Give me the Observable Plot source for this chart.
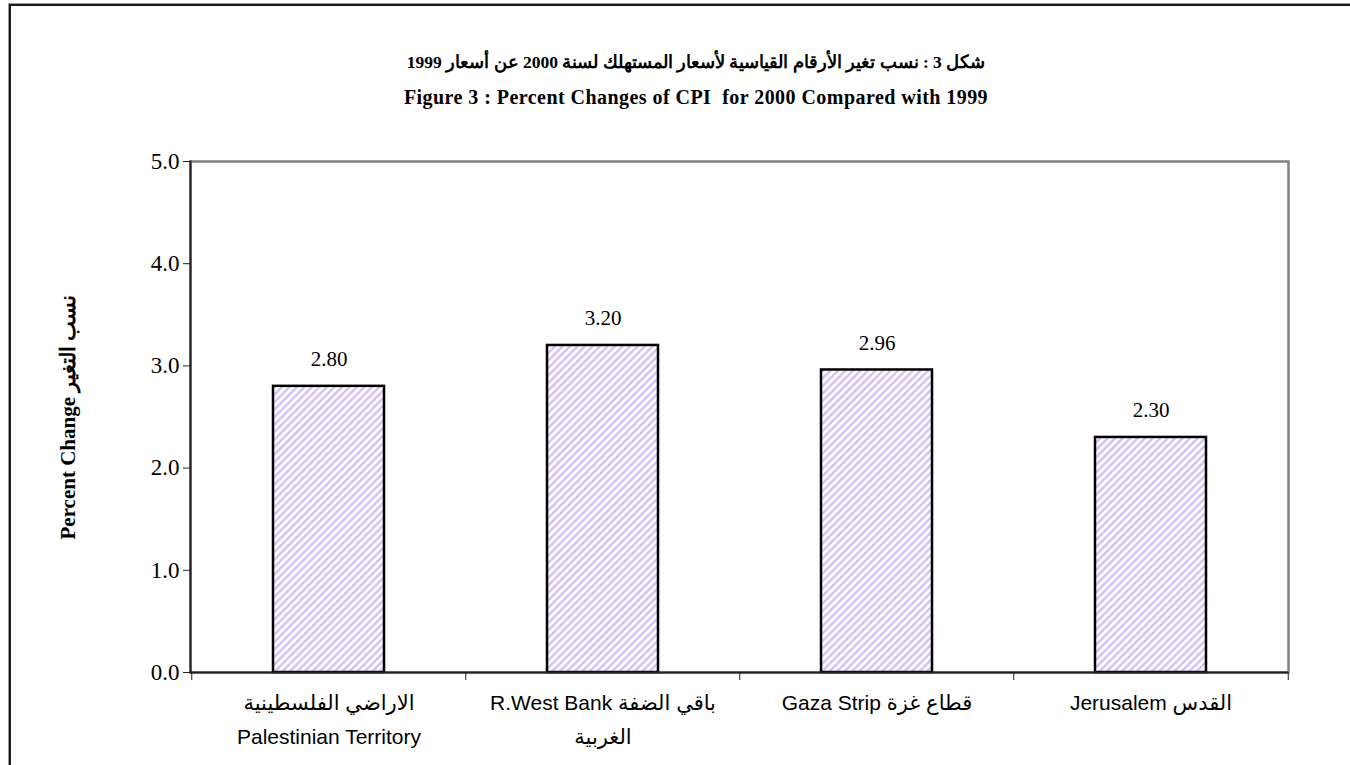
<!DOCTYPE html>
<html>
<head>
<meta charset="utf-8">
<script src="https://cdn.jsdelivr.net/npm/d3@7"></script>
<script src="https://cdn.jsdelivr.net/npm/@observablehq/plot@0.6"></script>
<style>
  html, body { margin: 0; padding: 0; background: #fff; overflow: hidden; width: 1350px; height: 765px; }
  #page { position: relative; width: 1350px; height: 765px; }
  #outer { position: absolute; left: 9px; top: 4px; width: 1400px; height: 800px;
           border-top: 2px solid #1a1a1a; border-left: 2px solid #1a1a1a;
           box-shadow: -1px -1px 0 #999; }
  .title { position: absolute; left: 0; width: 1392px; text-align: center;
           font-family: "Liberation Serif", "DejaVu Serif", serif; font-weight: bold; color: #000; }
  #t1 { top: 52px; font-size: 17.5px; direction: rtl; }
  #t2 { top: 86px; font-size: 20px; letter-spacing: 0.45px; }
  #chart { position: absolute; left: 0; top: 0; }
</style>
</head>
<body>
<div id="page">
  <div id="outer"></div>
  <div class="title" id="t1">شكل 3 : نسب تغير الأرقام القياسية لأسعار المستهلك لسنة 2000 عن أسعار 1999</div>
  <div class="title" id="t2">Figure 3 : Percent Changes of CPI&nbsp; for 2000 Compared with 1999</div>
  <div id="chart"></div>
</div>
<script>
const categories = [
  "الاراضي الفلسطينية\nPalestinian Territory",
  "R.West Bank باقي الضفة\nالغربية",
  "Gaza Strip قطاع غزة",
  "Jerusalem القدس"
];
const values = [2.80, 3.20, 2.96, 2.30];
const yTicks = [0, 1, 2, 3, 4, 5];
const yLabel = "Percent Change نسب التغير";

const data = categories.map((c, i) => ({cat: c, value: values[i]}));
const serif = "Liberation Serif, DejaVu Serif, serif";
const sans = "Liberation Sans, Arial, DejaVu Sans, sans-serif";

const W = 1350, H = 765, mL = 190, mR = 62, mT = 161, mB = 93;
const step = (W - mL - mR) / categories.length;

const chart = Plot.plot({
  width: W, height: H,
  marginLeft: mL, marginRight: mR, marginTop: mT, marginBottom: mB,
  style: {background: "transparent", overflow: "visible"},
  x: {domain: categories, paddingInner: 0.596, paddingOuter: 0.298, axis: null},
  y: {domain: [0, 5], axis: null},
  marks: [
    Plot.frame({stroke: "#808080", strokeWidth: 2.5}),
    Plot.barY(data, {x: "cat", y: "value", fill: "url(#hatch)", stroke: "#000", strokeWidth: 2.5}),
    Plot.text(data, {x: "cat", y: "value", text: d => d.value.toFixed(2), dy: -20, lineAnchor: "bottom",
      fontSize: 21, fontFamily: serif, fill: "#000"}),
    Plot.ruleY([0], {stroke: "#222", strokeWidth: 2}),
    Plot.frame({anchor: "left", stroke: "#222", strokeWidth: 2}),
    Plot.axisY({ticks: yTicks, tickFormat: d => d.toFixed(1), tickSize: 7, tickPadding: 4,
      fontSize: 23, fontFamily: serif, label: null, stroke: "#222", color: "#000"}),
    Plot.axisX({tickSize: 0, tickPadding: 14, fontSize: 21, fontFamily: sans, label: null,
      lineHeight: 1.6, color: "#000"}),
    Plot.axisX({tickSize: 8, tickFormat: () => "", dx: -step / 2, label: null, stroke: "#222"}),
    Plot.axisX({ticks: [categories[categories.length - 1]], tickSize: 8, tickFormat: () => "", dx: step / 2, label: null, stroke: "#222"}),
    Plot.text([yLabel], {frameAnchor: "left", textAnchor: "middle", rotate: -90, dx: -122, fontSize: 21,
      fontWeight: "bold", fontFamily: serif, fill: "#000"})
  ]
});

// hatch pattern for the bars
const ns = "http://www.w3.org/2000/svg";
const defs = document.createElementNS(ns, "defs");
defs.innerHTML = `<pattern id="hatch" patternUnits="userSpaceOnUse" width="5.3" height="5.3" patternTransform="rotate(45)">
  <rect width="5.3" height="5.3" fill="#ffffff"/>
  <line x1="1.3" y1="0" x2="1.3" y2="5.3" stroke="#d3b9f6" stroke-width="2.2"/>
</pattern>`;
chart.insertBefore(defs, chart.firstChild);
document.getElementById("chart").appendChild(chart);
</script>
</body>
</html>
